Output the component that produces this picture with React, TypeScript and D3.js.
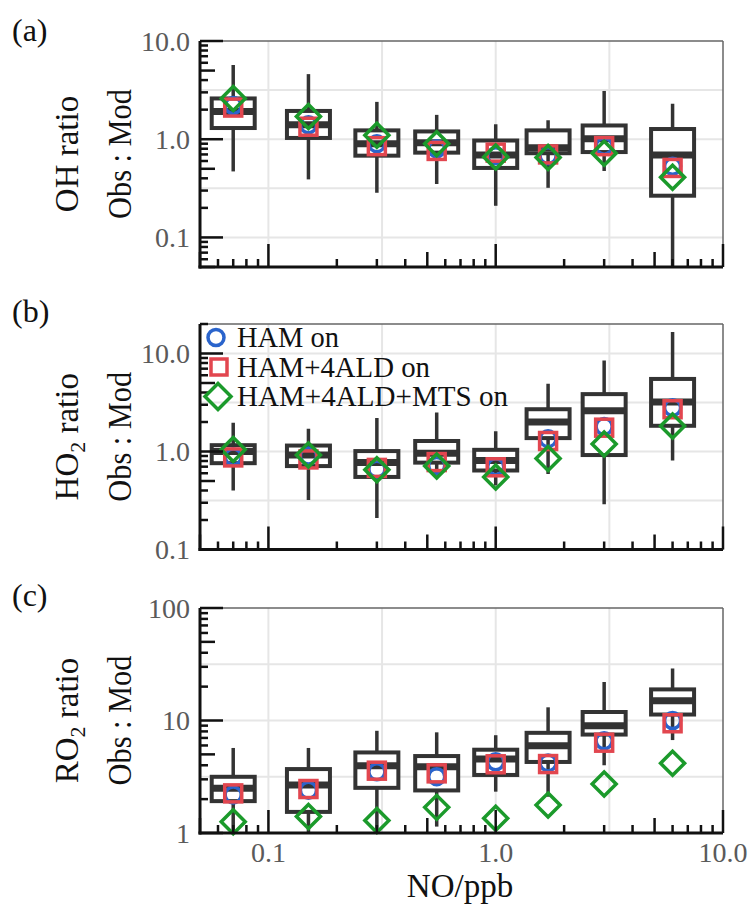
import React from 'react';
import * as d3 from 'd3';

// NO bin centres (ppb)
const noBins = [0.07, 0.15, 0.3, 0.55, 1.0, 1.7, 3.0, 6.0];

// OH obs:mod box stats
const ohLo = [0.47, 0.39, 0.285, 0.35, 0.21, 0.32, 0.475, 0.04];
const ohQ1 = [1.3, 1.03, 0.68, 0.73, 0.51, 0.72, 0.74, 0.266];
const ohMed = [1.91, 1.4, 0.9, 0.92, 0.69, 0.82, 1.01, 0.69];
const ohQ3 = [2.6, 1.94, 1.23, 1.2, 0.97, 1.23, 1.38, 1.27];
const ohHi = [5.7, 4.6, 2.4, 1.77, 1.42, 1.56, 3.1, 2.3];
const ohHam = [2.2, 1.4, 0.9, 0.8, 0.68, 0.68, 0.85, 0.53];
const ohHam4ald = [2.1, 1.34, 0.85, 0.76, 0.73, 0.7, 0.85, 0.51];
const ohMts = [2.6, 1.7, 1.1, 0.9, 0.66, 0.65, 0.72, 0.41];

// HO2
const ho2Lo = [0.4, 0.32, 0.21, 0.57, 0.45, 0.59, 0.29, 0.81];
const ho2Q1 = [0.76, 0.71, 0.55, 0.77, 0.64, 1.37, 0.92, 1.83];
const ho2Med = [1.0, 0.92, 0.77, 0.96, 0.81, 2.0, 2.6, 3.2];
const ho2Q3 = [1.16, 1.15, 1.01, 1.28, 1.04, 2.7, 3.85, 5.5];
const ho2Hi = [1.97, 1.71, 2.2, 2.5, 1.61, 4.9, 8.5, 16.6];
const ho2Ham = [0.88, 0.9, 0.66, 0.72, 0.7, 1.35, 1.8, 2.8];
const ho2Ham4ald = [0.87, 0.83, 0.68, 0.78, 0.69, 1.28, 1.75, 2.7];
const ho2Mts = [1.05, 0.92, 0.65, 0.71, 0.55, 0.85, 1.19, 1.82];

// RO2
const ro2Lo = [1.0, 1.0, 1.0, 1.14, 2.33, 2.1, 4.0, 6.7];
const ro2Q1 = [1.92, 1.54, 2.52, 2.39, 3.28, 4.28, 7.5, 11.3];
const ro2Med = [2.5, 2.67, 3.96, 3.88, 4.55, 5.97, 9.0, 15];
const ro2Q3 = [3.16, 3.7, 5.2, 4.83, 5.5, 7.77, 11.9, 18.9];
const ro2Hi = [5.7, 5.7, 8.1, 7.85, 7.4, 13.1, 22, 29];
const ro2Ham = [2.18, 2.4, 3.5, 3.17, 4.3, 4.2, 6.6, 10.0];
const ro2Ham4ald = [2.25, 2.46, 3.58, 3.39, 4.08, 4.1, 6.35, 9.45];
const ro2Mts = [1.26, 1.4, 1.29, 1.69, 1.35, 1.77, 2.73, 4.17];

const legendLabels = ['HAM on', 'HAM+4ALD on', 'HAM+4ALD+MTS on'];
const legendWidths = [102, 193, 271];
const xTickLabels = ['0.1', '1.0', '10.0'];

const FONT = '"Liberation Serif", "Times New Roman", serif';
const BLUE = '#2a64cc';
const RED = '#e2464f';
const GREEN = '#1b9a2b';
const BOXC = '#333';
const TICKTXT = '#5a5a5a';

const left = 200, right = 723;
const xScale = d3.scaleLog().domain([0.05, 10]).range([left, right]);

const panels = [
  { id: 'a', top: 41, bottom: 267, domain: [0.05, 10], yLabels: ['10.0', '1.0', '0.1'],
    name: 'OH', sub: '', lo: ohLo, q1: ohQ1, med: ohMed, q3: ohQ3, hi: ohHi,
    ham: ohHam, ham4: ohHam4ald, mts: ohMts, legend: false, labelY: 41 },
  { id: 'b', top: 324, bottom: 549.5, domain: [0.1, 20], yLabels: ['10.0', '1.0', '0.1'],
    name: 'HO', sub: '2', lo: ho2Lo, q1: ho2Q1, med: ho2Med, q3: ho2Q3, hi: ho2Hi,
    ham: ho2Ham, ham4: ho2Ham4ald, mts: ho2Mts, legend: true, labelY: 322 },
  { id: 'c', top: 608, bottom: 833, domain: [1, 100], yLabels: ['100', '10', '1'],
    name: 'RO', sub: '2', lo: ro2Lo, q1: ro2Q1, med: ro2Med, q3: ro2Q3, hi: ro2Hi,
    ham: ro2Ham, ham4: ro2Ham4ald, mts: ro2Mts, legend: false, labelY: 606 },
];

const tickKind = (t: number) => {
  const e = Math.floor(Math.log10(t) + 1e-9);
  const m = Math.round(t / Math.pow(10, e));
  return m === 1 ? 'major' : m === 5 ? 'mid' : 'minor';
};
const tickLen = { major: 23, mid: 15, minor: 8 } as any;

const halfDecades = (dom: number[]) => {
  const out: number[] = [];
  for (let k = -4; k <= 4; k++) {
    const v = Math.pow(10, k / 2);
    if (v >= dom[0] * 1.01 && v <= dom[1] * 0.99) out.push(v);
  }
  return out;
};

const Diamond = ({ x, y, r, color }: any) => (
  <path d={`M${x},${y - r}L${x + r},${y}L${x},${y + r}L${x - r},${y}Z`}
    fill="none" stroke={color} strokeWidth={3.5} />
);
const Square = ({ x, y, s, color }: any) => (
  <rect x={x - s / 2} y={y - s / 2} width={s} height={s} fill="none" stroke={color} strokeWidth={3.5} />
);
const Circle = ({ x, y, r, color }: any) => (
  <circle cx={x} cy={y} r={r} fill="none" stroke={color} strokeWidth={3.5} />
);

const Panel = ({ p }: any) => {
  const y = d3.scaleLog().domain(p.domain).range([p.bottom, p.top]);
  const xt = xScale.ticks();
  const yt = y.ticks();
  const boxW = 43;
  const midY = (p.top + p.bottom) / 2;
  return (
    <g>
      <clipPath id={`clip-${p.id}`}>
        <rect x={left} y={p.top} width={right - left} height={p.bottom - p.top} />
      </clipPath>
      {/* grid */}
      {halfDecades(xScale.domain()).map((v, i) => (
        <line key={`gx${i}`} x1={xScale(v)} x2={xScale(v)} y1={p.top} y2={p.bottom} stroke="#e6e6e6" strokeWidth={2} />
      ))}
      {halfDecades(p.domain).map((v, i) => (
        <line key={`gy${i}`} x1={left} x2={right} y1={y(v)} y2={y(v)} stroke="#e6e6e6" strokeWidth={2} />
      ))}
      {/* frame top/right */}
      <line x1={left} x2={right} y1={p.top} y2={p.top} stroke="#666" strokeWidth={1.5} />
      <line x1={right} x2={right} y1={p.top} y2={p.bottom} stroke="#666" strokeWidth={1.5} />
      {/* boxes */}
      <g clipPath={`url(#clip-${p.id})`}>
        {noBins.map((n, i) => {
          const cx = xScale(n);
          return (
            <g key={`b${i}`}>
              <line x1={cx} x2={cx} y1={y(p.hi[i])} y2={y(p.lo[i])} stroke={BOXC} strokeWidth={3.5} />
              <rect x={cx - boxW / 2} y={y(p.q3[i])} width={boxW} height={y(p.q1[i]) - y(p.q3[i])}
                fill="#fff" stroke={BOXC} strokeWidth={4} />
              <line x1={cx - boxW / 2} x2={cx + boxW / 2} y1={y(p.med[i])} y2={y(p.med[i])} stroke={BOXC} strokeWidth={7} />
            </g>
          );
        })}
      </g>
      {/* markers */}
      {noBins.map((n, i) => <Circle key={`c${i}`} x={xScale(n)} y={y(p.ham[i])} r={8} color={BLUE} />)}
      {noBins.map((n, i) => <Square key={`s${i}`} x={xScale(n)} y={y(p.ham4[i])} s={17} color={RED} />)}
      {noBins.map((n, i) => <Diamond key={`d${i}`} x={xScale(n)} y={y(p.mts[i])} r={12} color={GREEN} />)}
      {/* axes */}
      {xt.map((t, i) => (
        <line key={`xt${i}`} x1={xScale(t)} x2={xScale(t)} y1={p.bottom} y2={p.bottom - tickLen[tickKind(t)]}
          stroke="#111" strokeWidth={2.5} />
      ))}
      {yt.map((t, i) => (
        <line key={`yt${i}`} x1={left} x2={left + tickLen[tickKind(t)]} y1={y(t)} y2={y(t)}
          stroke="#111" strokeWidth={2.5} />
      ))}
      <line x1={left} x2={left} y1={p.top} y2={p.bottom + 1.5} stroke="#111" strokeWidth={3} />
      <line x1={left - 1.5} x2={right} y1={p.bottom} y2={p.bottom} stroke="#111" strokeWidth={3} />
      {/* y tick labels */}
      {yt.filter(t => tickKind(t) === 'major').reverse().map((t, i) => (
        <text key={`yl${i}`} x={190} y={y(t) + 9.5} textAnchor="end" fontFamily={FONT} fontSize={28} fill={TICKTXT}>
          {p.yLabels[i]}
        </text>
      ))}
      {/* y axis title */}
      <text transform={`translate(78,${midY}) rotate(-90)`} textAnchor="middle" fontFamily={FONT} fontSize={33} fill="#111">
        {p.name}{p.sub && <tspan fontSize={22} dy={7}>{p.sub}</tspan>}
        {p.sub ? <tspan dy={-7}> ratio</tspan> : ' ratio'}
      </text>
      <text transform={`translate(131,${midY}) rotate(-90)`} textAnchor="middle" fontFamily={FONT} fontSize={34} fill="#111"
        textLength={130} lengthAdjust="spacingAndGlyphs">
        Obs : Mod
      </text>
      <text x={12} y={p.labelY} fontFamily={FONT} fontSize={32} fill="#111">({p.id})</text>
      {p.legend && (
        <g>
          {legendLabels.map((l, i) => {
            const ly = 337.5 + i * 29.5;
            return (
              <g key={`lg${i}`}>
                {i === 0 && <Circle x={216} y={ly} r={8} color={BLUE} />}
                {i === 1 && <Square x={219} y={ly} s={16} color={RED} />}
                {i === 2 && <Diamond x={218} y={ly} r={13} color={GREEN} />}
                <text x={237} y={ly + 9.5} fontFamily={FONT} fontSize={29} fill="#111"
                  textLength={legendWidths[i]} lengthAdjust="spacingAndGlyphs">{l}</text>
              </g>
            );
          })}
        </g>
      )}
    </g>
  );
};

export default function App() {
  const last = panels[panels.length - 1];
  return (
    <svg width={754} height={909} style={{ position: 'absolute', left: 0, top: 0, background: '#fff' }}>
      {panels.map(p => <Panel key={p.id} p={p} />)}
      {[0.1, 1, 10].map((t, i) => (
        <text key={`xl${i}`} x={xScale(t)} y={last.bottom + 29} textAnchor="middle" fontFamily={FONT} fontSize={28} fill={TICKTXT}>
          {xTickLabels[i]}
        </text>
      ))}
      <text x={460} y={897} textAnchor="middle" fontFamily={FONT} fontSize={33} fill="#111">NO/ppb</text>
    </svg>
  );
}
